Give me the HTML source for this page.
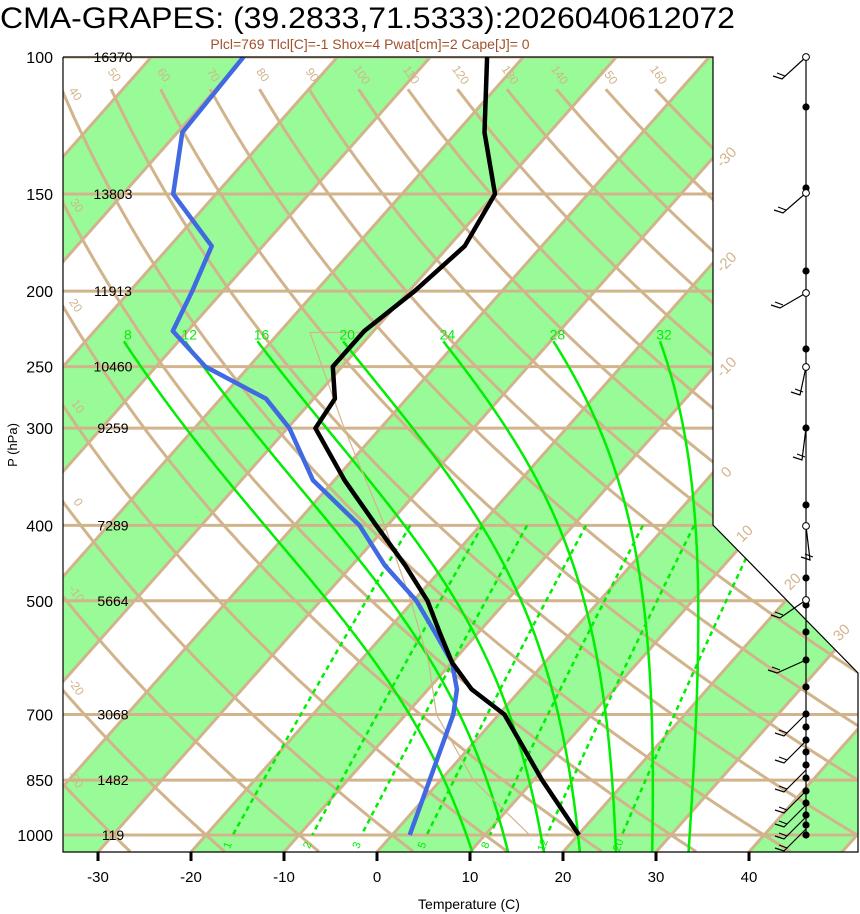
<!DOCTYPE html>
<html><head><meta charset="utf-8"><style>
body{margin:0;background:#fff}
svg{display:block;font-family:"Liberation Sans",sans-serif}
</style></head><body>
<svg id="chart" width="860" height="914" viewBox="0 0 860 914" xmlns="http://www.w3.org/2000/svg">
<defs><clipPath id="plotclip"><polygon points="63,57 713,57 713,525 858,673 858,852 63,852"/></clipPath></defs>
<text x="0" y="28" font-size="30" textLength="735" lengthAdjust="spacingAndGlyphs">CMA-GRAPES: (39.2833,71.5333):2026040612072</text>
<text x="370" y="49" font-size="14" fill="#a0522d" text-anchor="middle">Plcl=769 Tlcl[C]=-1 Shox=4 Pwat[cm]=2 Cape[J]= 0</text>
<g id="plot" clip-path="url(#plotclip)"></g>
<g id="over"></g>
</svg>
<script>
// ---- data ----
const pLevels = [100,125,150,175,200,225,250,275,300,350,400,450,500,550,600,650,700,850,1000];
const tempC   = [-63.9,-57,-50.0,-48.3,-49.4,-51.0,-51.0,-47.7,-47.0,-38.9,-31.2,-24.3,-18.5,-14.1,-10.0,-5.3,0.6,10.9,20.1];
const dewC    = [-90.1,-89.5,-84.6,-75.5,-73.3,-71.6,-64.7,-55.1,-49.8,-42.3,-33.0,-26.5,-19.7,-14.6,-10.0,-6.9,-4.9,-1.2,1.9];
const parcelP = [1000,850,700,600,500,400,300,226];
const parcelT = [14.8,3.5,-6.7,-12.5,-20.3,-30.3,-43.9,-56.7];
const isobars = [100,150,200,250,300,400,500,700,850,1000];
const heights = ["16370","13803","11913","10460","9259","7289","5664","3068","1482","119"];
const xTicks  = [-30,-20,-10,0,10,20,30,40];
const dryTheta = [-30,-20,-10,0,10,20,30,40,50,60,70,80,90,100,110,120,130,140,150,160];
const moistLabels = [8,12,16,20,24,28,32];
const mixRatios = [1,2,3,5,8,12,20];

// ---- axes ----
const NS="http://www.w3.org/2000/svg";
function Y(p){return 835-337.9*Math.log(1000/p);}
function X(T,y){return 377+9.3*T+(852-y)*0.886;}
const plot=document.getElementById('plot'), over=document.getElementById('over');
function mk(tag,attrs,parent){const e=document.createElementNS(NS,tag);for(const k in attrs)e.setAttribute(k,attrs[k]);parent.appendChild(e);return e;}
function path(pts){return pts.map((q,i)=>(i?'L':'M')+q[0].toFixed(1)+','+q[1].toFixed(1)).join('');}
const TAN="#d2b48c", GRN="#00ee00";

// bands
for(let k=-16;k<=12;k+=2){
  const t1=10*k,t2=t1+10;
  const e=mk('polygon',{points:[[X(t1,852),852],[X(t2,852),852],[X(t2,57),57],[X(t1,57),57]].map(q=>q.join(',')).join(' '),fill:'#98fb98'},plot);
  
  
}
// isotherms
for(let t=-160;t<=60;t+=10){
  const e=mk('line',{x1:X(t,852),y1:852,x2:X(t,57),y2:57,stroke:TAN,'stroke-width':3},plot);
  
  
}
// isobars
isobars.forEach(p=>{
  const e=mk('line',{x1:63,y1:Y(p),x2:860,y2:Y(p),stroke:TAN,'stroke-width':3},plot);
  
  
});
// dry adiabats
dryTheta.forEach(th=>{
  const pts=[];
  for(let p=110;p<=1052;p+=5){const y=Y(p);const T=(th+273.15)*Math.pow(p/1000,0.286)-273.15;pts.push([X(T,y),y]);}
  const e=mk('path',{d:path(pts),fill:'none',stroke:TAN,'stroke-width':3},plot);
  
  
  let lx=pts[0][0],ly=pts[0][1]-12;
  if(lx<70){for(const q of pts){if(q[0]>=68){lx=q[0]+4;ly=q[1]-8;break;}}}
  if(lx<713&&lx>60){
    const t=mk('text',{x:lx,y:ly,'font-size':12,fill:TAN,'text-anchor':'middle',transform:`rotate(55 ${lx} ${ly})`},over);
    t.textContent=th;
    
    
  }
});
// moist adiabats
function dTdp(T,p){const tc=T-273.15;const es=6.112*Math.exp(17.67*tc/(tc+243.5));const rs=0.622*es/(p-es);
  return ((287.04*T+2.501e6*rs)/p)/(1004.6+2.501e6*2.501e6*rs*0.622/(287.04*T*T));}
function moist(T0,p0,p1){const pts=[];let T=T0+273.15;const dp=p1<p0?-1:1;for(let p=p0;dp<0?p>=p1:p<=p1;p+=dp){pts.push([p,T-273.15]);T+=dTdp(T,p)*dp;}return pts;}
moistLabels.forEach(t0=>{
  const up=moist(t0,1000,232), dn=moist(t0,1000,1052);
  const all=up.reverse().concat(dn.slice(1));
  const pts=all.map(q=>{const y=Y(q[0]);return [X(q[1],y),y];});
  const e=mk('path',{d:path(pts),fill:'none',stroke:GRN,'stroke-width':2.5},plot);
  
  
  const t=mk('text',{x:pts[0][0]+4,y:pts[0][1]-2,'font-size':14,fill:GRN,'text-anchor':'middle'},over);
  t.textContent=t0;
  
  
});
// mixing ratio lines
function tdew(w,p){const e=w*p/(622+w);const l=Math.log(e/6.112);return 243.5*l/(17.67-l);}
mixRatios.forEach(w=>{
  const pts=[];for(let p=400;p<=1000;p+=10){const y=Y(p);pts.push([X(tdew(w,p),y),y]);}
  const e=mk('path',{d:path(pts),fill:'none',stroke:GRN,'stroke-width':2.5,'stroke-dasharray':'5,4'},plot);
  
  
  const y=Y(1030),x=X(tdew(w,1030),y);
  const t=mk('text',{x:x,y:y+4,'font-size':11,fill:GRN,'text-anchor':'middle',transform:`rotate(-70 ${x} ${y})`},over);
  t.textContent=w;
  
  
});
// parcel path (thin)
(function(){
  const pts=parcelP.map((p,i)=>{const y=Y(p);return [X(parcelT[i],y),y];});
  const last=pts[pts.length-1];pts.push([last[0]+57,last[1]]);
  const e=mk('path',{d:path(pts),fill:'none',stroke:TAN,'stroke-width':1.2},plot);
  
  
})();
// profiles
function profile(arr,color,name){
  const pts=pLevels.map((p,i)=>{const y=Y(p);return [X(arr[i],y),y];});
  const e=mk('path',{d:path(pts),fill:'none',stroke:color,'stroke-width':4.5,'stroke-linejoin':'round'},plot);
  
  
}
profile(dewC,'#4169e1','dewpoint-profile');
profile(tempC,'#000','temperature-profile');

// frame
const fr=mk('polyline',{points:'63,57 713,57 713,525 858,673 858,852 63,852 63,57',fill:'none',stroke:'#000','stroke-width':1.2},over);


// isotherm labels right side
[-30,-20,-10,0].forEach(t=>{
  const y=852-(713-377-9.3*t)/0.886, x=727;
  const e=mk('text',{x:x,y:y+4,'font-size':15,fill:TAN,'text-anchor':'middle',transform:`rotate(-45 ${x} ${y})`},over);
  e.textContent=t;
  
  
});
[[10,748,537],[20,796,585],[30,845,636]].forEach(a=>{
  const e=mk('text',{x:a[1],y:a[2],'font-size':15,fill:TAN,'text-anchor':'middle',transform:`rotate(-45 ${a[1]} ${a[2]})`},over);
  e.textContent=a[0];
  
  
});
// pressure & height labels
isobars.forEach((p,i)=>{
  const y=Y(p);
  const a=mk('text',{x:53,y:y+6,'font-size':16,'text-anchor':'end'},over);
  a.textContent=p;
  
  
  const b=mk('text',{x:113,y:y+5,'font-size':14,'text-anchor':'middle'},over);
  b.textContent=heights[i];
  
  
});
// x ticks
xTicks.forEach(t=>{
  const x=377+9.3*t;
  const l=mk('line',{x1:x,y1:852,x2:x,y2:861,stroke:'#000','stroke-width':3},over);
  
  
  const e=mk('text',{x:x,y:882,'font-size':15,'text-anchor':'middle'},over);
  e.textContent=t;
  
  
});
const xt=mk('text',{x:469,y:909,'font-size':14,'text-anchor':'middle'},over);
xt.textContent='Temperature (C)';


const yt=mk('text',{x:17,y:445,'font-size':13,'text-anchor':'middle',transform:'rotate(-90 17 445)'},over);
yt.textContent='P (hPa)';



// wind column
const wc=mk('line',{x1:806,y1:57,x2:806,y2:838,stroke:'#000','stroke-width':1.2},over);


const barbs=[[57,-24,22],[193,-23,20],[293,-26,15],[367,-6,28],[428,-4,32],[526,4,34],[600,-26,18],[660,-29,13],[714,-22,22],[741,-22,22],[770,-22,22],[791,-22,22],[805,-22,22],[817,-22,22],[829,-22,22]];
barbs.forEach(b=>{
  const x2=806+b[1],y2=b[0]+b[2];
  const g=mk('path',{d:`M806,${b[0]}L${x2},${y2}L${x2-9},${y2-3}M${x2+3},${y2-3}L${x2-5},${y2-6}`,fill:'none',stroke:'#000','stroke-width':1.2},over);
  
  
});
const filled=[107,188,271,349,428,505,578,605,632,660,687,714,727,740,752,765,778,791,803,815,825,835];
filled.forEach(y=>{
  const c=mk('circle',{cx:806,cy:y,r:3.6,fill:'#000'},over);
  
  
});
[57,193,293,367,526,600].forEach(y=>{
  const c=mk('circle',{cx:806,cy:y,r:3.4,fill:'#fff',stroke:'#000','stroke-width':1},over);
  
  
});
</script>
</body></html>
